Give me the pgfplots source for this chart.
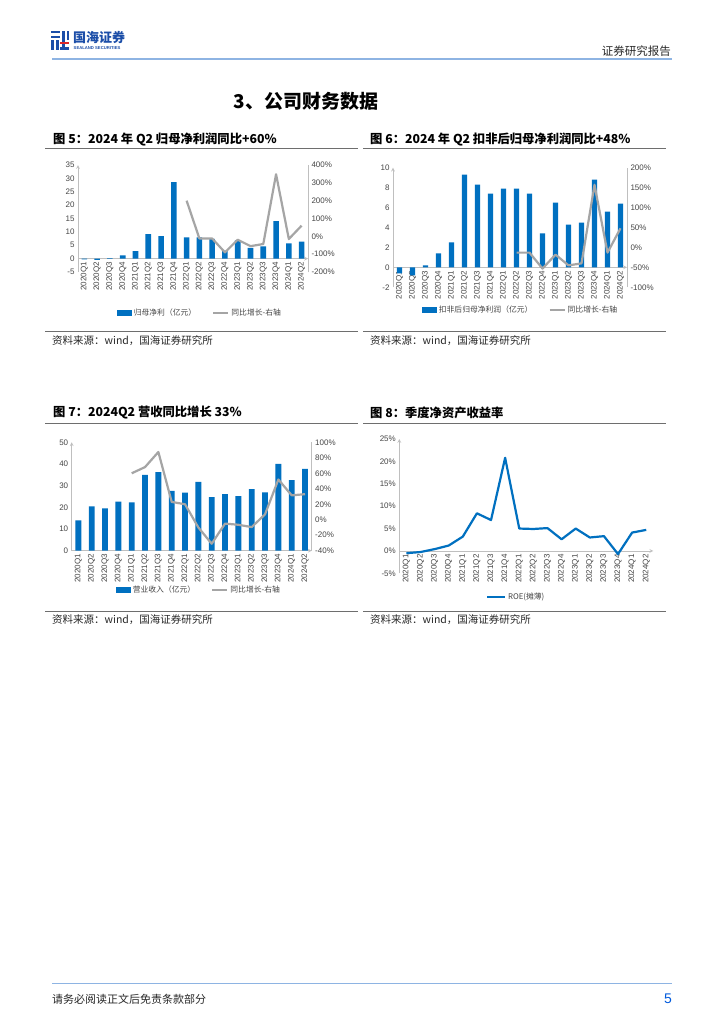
\documentclass[border=0pt]{standalone}
\usepackage{fontspec}
\usepackage{pgfplots}
\pgfplotsset{compat=1.18}
\setmainfont{Liberation Sans}
\newfontfamily\cjk{Noto Sans CJK SC}
\definecolor{barblue}{RGB}{0,112,192}
\definecolor{linegray}{RGB}{165,165,165}
\definecolor{axisgray}{RGB}{191,191,191}
\definecolor{labelgray}{RGB}{70,70,70}
\definecolor{headblue}{RGB}{142,180,227}
\definecolor{logoblue}{RGB}{28,78,168}
\definecolor{logored}{RGB}{220,40,40}
\definecolor{rulegray}{RGB}{110,110,110}
\definecolor{pageblue}{RGB}{0,90,220}
\definecolor{textdark}{RGB}{40,40,40}
\pgfplotsset{
  basex/.style={
    scale only axis, xmin=-0.5, xmax=17.5,
    xtick={0,...,17},
    xticklabels={2020Q1,2020Q2,2020Q3,2020Q4,2021Q1,2021Q2,2021Q3,2021Q4,2022Q1,2022Q2,2022Q3,2022Q4,2023Q1,2023Q2,2023Q3,2023Q4,2024Q1,2024Q2},
    major tick length=0pt,
    tick label style={font=\fontsize{8}{9}\selectfont, text=labelgray},
    xticklabel style={rotate=90, anchor=east},
    axis line style={draw=axisgray, line width=0.7pt, -},
    hide obscured x ticks=false, hide obscured y ticks=false,
    clip=false,
  },
  barlegend/.style={legend image code/.code={\fill[barblue] (0pt,-2.8pt) rectangle (15pt,2.8pt);}},
  linelegend/.style={legend image code/.code={\draw[linegray, line width=2.2pt] (0pt,0pt) -- (15pt,0pt);}},
  bluelegend/.style={legend image code/.code={\draw[barblue, line width=2.2pt] (0pt,0pt) -- (18pt,0pt);}},
  mylegend/.style={legend style={draw=none, fill=none, anchor=center, legend columns=2,
      font=\cjk\fontsize{7.8}{9}\selectfont, text=labelgray,
      /tikz/every even column/.append style={column sep=14pt}}},
}
\begin{document}
\begin{tikzpicture}
\path[use as bounding box, fill=white] (0pt,0pt) rectangle (724pt,-1024pt);

% ---------- header ----------
\fill[logoblue] (51pt,-31pt) rectangle (60pt,-33.5pt);
\fill[logoblue] (62pt,-31pt) rectangle (64.5pt,-50pt);
\fill[logoblue] (66.5pt,-31pt) rectangle (69pt,-40pt);
\fill[logoblue] (51pt,-36pt) rectangle (60pt,-38.5pt);
\fill[logoblue] (51pt,-40.5pt) rectangle (53.5pt,-50pt);
\fill[logoblue] (56pt,-40.5pt) rectangle (58.5pt,-50pt);
\fill[logored] (60pt,-42.5pt) rectangle (69pt,-44.5pt);
\fill[logoblue] (60pt,-47.5pt) rectangle (69pt,-50pt);
\node[anchor=west, inner sep=0pt, text=logoblue, font=\cjk\bfseries\fontsize{13}{13}\selectfont] at (73pt,-38pt) {国海证券};
\node[anchor=west, inner sep=0pt, text=logoblue, font=\bfseries\fontsize{4.2}{5}\selectfont] at (73.5pt,-48pt) {SEALAND SECURITIES};
\node[anchor=east, inner sep=0pt, text=textdark, font=\cjk\fontsize{11.5}{12}\selectfont] at (671pt,-51pt) {证券研究报告};
\draw[headblue, line width=1.6pt] (52pt,-59.3pt) -- (672pt,-59.3pt);

\node[inner sep=0pt, font=\cjk\bfseries\fontsize{19}{20}\selectfont] at (306pt,-101pt) {3、公司财务数据};

% ---------- captions / rules / sources ----------
\node[anchor=west, inner sep=0pt, font=\cjk\bfseries\fontsize{12.3}{13}\selectfont] at (53pt,-139pt) {图 5：2024 年 Q2 归母净利润同比+60\%};
\node[anchor=west, inner sep=0pt, font=\cjk\bfseries\fontsize{12.3}{13}\selectfont] at (370pt,-139pt) {图 6：2024 年 Q2 扣非后归母净利润同比+48\%};
\draw[rulegray, line width=0.8pt] (45pt,-148.3pt) -- (358pt,-148.3pt);
\draw[rulegray, line width=0.8pt] (363pt,-148.3pt) -- (666pt,-148.3pt);
\draw[rulegray, line width=0.8pt] (45pt,-331.7pt) -- (358pt,-331.7pt);
\draw[rulegray, line width=0.8pt] (363pt,-331.7pt) -- (666pt,-331.7pt);
\node[anchor=west, inner sep=0pt, text=textdark, font=\cjk\fontsize{10.5}{11}\selectfont] at (52pt,-340.7pt) {资料来源：wind，国海证券研究所};
\node[anchor=west, inner sep=0pt, text=textdark, font=\cjk\fontsize{10.5}{11}\selectfont] at (370pt,-340.7pt) {资料来源：wind，国海证券研究所};

\node[anchor=west, inner sep=0pt, font=\cjk\bfseries\fontsize{12.3}{13}\selectfont] at (53pt,-413pt) {图 7：2024Q2 营收同比增长 33\%};
\node[anchor=west, inner sep=0pt, font=\cjk\bfseries\fontsize{12.3}{13}\selectfont] at (370pt,-413pt) {图 8：季度净资产收益率};
\draw[rulegray, line width=0.8pt] (45pt,-423.3pt) -- (358pt,-423.3pt);
\draw[rulegray, line width=0.8pt] (363pt,-423.3pt) -- (666pt,-423.3pt);
\draw[rulegray, line width=0.8pt] (45pt,-611pt) -- (358pt,-611pt);
\draw[rulegray, line width=0.8pt] (363pt,-611pt) -- (666pt,-611pt);
\node[anchor=west, inner sep=0pt, text=textdark, font=\cjk\fontsize{10.5}{11}\selectfont] at (52pt,-620pt) {资料来源：wind，国海证券研究所};
\node[anchor=west, inner sep=0pt, text=textdark, font=\cjk\fontsize{10.5}{11}\selectfont] at (370pt,-620pt) {资料来源：wind，国海证券研究所};

% ---------- footer ----------
\draw[headblue, line width=1.3pt] (52pt,-983.5pt) -- (672pt,-983.5pt);
\node[anchor=west, inner sep=0pt, text=textdark, font=\cjk\fontsize{11}{12}\selectfont] at (52pt,-999pt) {请务必阅读正文后免责条款部分};
\node[anchor=east, inner sep=0pt, text=pageblue, font=\fontsize{14}{15}\selectfont] at (672pt,-999pt) {5};

% ---------- Chart 1 ----------
\begin{axis}[basex, mylegend, at={(78pt,-272pt)}, anchor=south west, width=230pt, height=107pt,
  axis x line=middle, axis y line=left,
  ymin=-5, ymax=35, ytick={-5,0,5,10,15,20,25,30,35}, yticklabels={-5,0,5,10,15,20,25,30,35},
  legend style={at={(0.53,-0.383)}}]
\addplot[ybar, bar width=5.6pt, fill=barblue, draw=none, barlegend] coordinates {
(0,-0.3) (1,-0.5) (2,0.2) (3,1.2) (4,2.8) (5,9.2) (6,8.4) (7,28.6) (8,7.9) (9,7.9) (10,7.4) (11,3.0) (12,6.8) (13,4.0) (14,4.6) (15,14.0) (16,5.7) (17,6.4)};
\addlegendentry{归母净利（亿元）}
\addlegendimage{linelegend}
\addlegendentry{同比增长-右轴}
\end{axis}
\begin{axis}[basex, at={(78pt,-272pt)}, anchor=south west, width=230pt, height=107pt,
  hide x axis, axis y line*=right,
  ymin=-200, ymax=400, ytick={-200,-100,0,100,200,300,400},
  yticklabels={-200\%,-100\%,0\%,100\%,200\%,300\%,400\%}]
\addplot[linegray, line width=2.2pt, line join=round] coordinates {
(8,200) (9,-12) (10,-12) (11,-90) (12,-19) (13,-55) (14,-43) (15,348) (16,-15) (17,60)};
\end{axis}

% ---------- Chart 2 ----------
\begin{axis}[basex, mylegend, at={(393pt,-287.3pt)}, anchor=south west, width=234pt, height=119.6pt,
  axis x line=middle, axis y line=left,
  ymin=-2, ymax=10, ytick={-2,0,2,4,6,8,10}, yticklabels={-2,0,2,4,6,8,10},
  legend style={at={(0.545,-0.19)}}]
\addplot[ybar, bar width=5.4pt, fill=barblue, draw=none, barlegend] coordinates {
(0,-0.6) (1,-0.8) (2,0.2) (3,1.4) (4,2.5) (5,9.3) (6,8.3) (7,7.4) (8,7.9) (9,7.9) (10,7.4) (11,3.4) (12,6.5) (13,4.3) (14,4.5) (15,8.8) (16,5.6) (17,6.4)};
\addlegendentry{扣非后归母净利润（亿元）}
\addlegendimage{linelegend}
\addlegendentry{同比增长-右轴}
\end{axis}
\begin{axis}[basex, at={(393pt,-287.3pt)}, anchor=south west, width=234pt, height=119.6pt,
  hide x axis, axis y line*=right,
  ymin=-100, ymax=200, ytick={-100,-50,0,50,100,150,200},
  yticklabels={-100\%,-50\%,0\%,50\%,100\%,150\%,200\%}]
\addplot[linegray, line width=2.2pt, line join=round] coordinates {
(9,-13) (10,-13) (11,-53) (12,-18) (13,-45) (14,-40) (15,157) (16,-13) (17,48)};
\end{axis}

% ---------- Chart 3 ----------
\begin{axis}[basex, mylegend, at={(71.7pt,-550.7pt)}, anchor=south west, width=240pt, height=108.4pt,
  axis x line=middle, axis y line=left,
  ymin=0, ymax=50, ytick={0,10,20,30,40,50}, yticklabels={0,10,20,30,40,50},
  legend style={at={(0.53,-0.363)}}]
\addplot[ybar, bar width=5.8pt, fill=barblue, draw=none, barlegend] coordinates {
(0,14.0) (1,20.5) (2,19.5) (3,22.6) (4,22.3) (5,35.0) (6,36.3) (7,27.6) (8,26.8) (9,31.7) (10,24.7) (11,26.1) (12,25.2) (13,28.4) (14,26.9) (15,40.1) (16,32.6) (17,37.7)};
\addlegendentry{营业收入（亿元）}
\addlegendimage{linelegend}
\addlegendentry{同比增长-右轴}
\end{axis}
\begin{axis}[basex, at={(71.7pt,-550.7pt)}, anchor=south west, width=240pt, height=108.4pt,
  hide x axis, axis y line*=right,
  ymin=-40, ymax=100, ytick={-40,-20,0,20,40,60,80,100},
  yticklabels={-40\%,-20\%,0\%,20\%,40\%,60\%,80\%,100\%}]
\addplot[linegray, line width=2.2pt, line join=round] coordinates {
(4,60) (5,68) (6,87.5) (7,23) (8,20) (9,-10) (10,-31) (11,-5) (12,-6.5) (13,-9.5) (14,7) (15,52) (16,31.5) (17,33)};
\end{axis}

% ---------- Chart 4 ----------
\begin{axis}[basex, mylegend, at={(399.3pt,-573.3pt)}, anchor=south west, width=254pt, height=134.3pt,
  axis x line=middle, axis y line=left,
  ymin=-5, ymax=25, ytick={-5,0,5,10,15,20,25}, yticklabels={-5\%,0\%,5\%,10\%,15\%,20\%,25\%},
  legend style={at={(0.46,-0.174)}}]
\addplot[barblue, line width=2.2pt, line join=round, bluelegend] coordinates {
(0,-0.5) (1,-0.25) (2,0.4) (3,1.2) (4,3.2) (5,8.4) (6,6.9) (7,20.8) (8,5.0) (9,4.9) (10,5.1) (11,2.6) (12,5.0) (13,3.0) (14,3.3) (15,-0.7) (16,4.1) (17,4.7)};
\addlegendentry{ROE(摊薄)}
\end{axis}
\end{tikzpicture}
\end{document}
